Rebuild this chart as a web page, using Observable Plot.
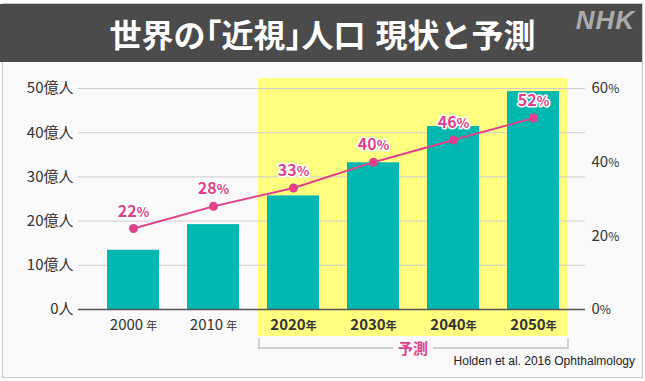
<!DOCTYPE html>
<html><head><meta charset="utf-8">
<script src="https://cdn.jsdelivr.net/npm/d3@7"></script>
<script src="https://cdn.jsdelivr.net/npm/@observablehq/plot@0.6"></script>
<style>
body{margin:0;background:#fff;font-family:"Noto Sans CJK JP","Noto Sans",sans-serif;}
#wrap{position:relative;width:645px;height:381px;overflow:hidden;}
#frame{position:absolute;left:2px;top:3px;width:639px;height:373px;border:1px solid #c8c8c8;background:#f9f9f9;}
#title{position:absolute;left:0px;top:4px;width:639px;height:58px;padding-left:3px;background:#4b4b4b;color:#fff;font-weight:700;font-size:32px;line-height:58px;text-align:center;}
#title .h{font-feature-settings:"halt";}
#title .sp{display:inline-block;width:10px;}
#nhk{position:absolute;right:10px;top:5px;color:#ababab;font-family:"Liberation Sans",sans-serif;font-weight:900;font-style:italic;font-size:26px;letter-spacing:1px;}
#chart{position:absolute;left:0;top:62px;}
#bracket{position:absolute;left:258px;top:338px;width:307px;height:9px;border:2px solid #cfcfcf;border-top:none;}
#yosoku{position:absolute;left:393px;top:337px;width:40px;text-align:center;background:#f9f9f9;color:#e0418b;font-weight:700;font-size:15px;line-height:22px;}
#source{position:absolute;right:10px;top:354px;font-family:"Liberation Sans",sans-serif;font-size:12px;color:#222;}
</style></head>
<body>
<div id="wrap">
  <div id="frame"></div>
  <div id="title">世界の<span class="h">「</span>近視<span class="h">」</span>人口<span class="sp"></span>現状と予測</div>
  <div id="nhk">NHK</div>
  <div id="chart"></div>
  <div id="bracket"></div>
  <div id="yosoku">予測</div>
  <div id="source">Holden et al. 2016 Ophthalmology</div>
</div>
<script>
const years = ["2000", "2010", "2020", "2030", "2040", "2050"];
const population = [13.4, 19.2, 25.7, 33.2, 41.4, 49.3]; // 億人
const share = [22, 28, 33, 40, 46, 52]; // %
const forecastYears = ["2020", "2030", "2040", "2050"];
const leftTicks = [0, 10, 20, 30, 40, 50];
const rightTicks = [0, 20, 40, 60];

const data = years.map((y, i) => ({year: y, pop: population[i], pct: share[i]}));
const toY = p => p * 50 / 60; // right axis (0–60%) onto left axis (0–50億人)

const pink = "#e0418b";
const teal = "#00b8b0";
const yellow = "#ffff80";
const inner = forecastYears.slice(1, -1);

const chart = Plot.plot({
  width: 645,
  height: 319,
  marginLeft: 78,
  marginRight: 60,
  marginTop: 26,
  marginBottom: 72,
  style: {background: "transparent", fontFamily: '"Noto Sans CJK JP", sans-serif', overflow: "visible"},
  x: {type: "band", domain: years, range: [93, 573], paddingInner: 0.35, paddingOuter: 0.175},
  y: {domain: [0, 50]},
  marks: [
    Plot.barY([forecastYears[0]], {x: d => d, y1: 0, y2: 50, fill: yellow, insetLeft: -9, insetRight: -15, insetTop: -10, insetBottom: -27}),
    Plot.barY(inner, {x: d => d, y1: 0, y2: 50, fill: yellow, insetLeft: -15, insetRight: -15, insetTop: -10, insetBottom: -27}),
    Plot.barY([forecastYears[forecastYears.length - 1]], {x: d => d, y1: 0, y2: 50, fill: yellow, insetLeft: -15, insetRight: -9, insetTop: -10, insetBottom: -27}),
    Plot.gridY(leftTicks, {stroke: "#cfcfcf", strokeOpacity: 1}),
    Plot.barY(data, {x: "year", y: "pop", fill: teal}),
    Plot.ruleY([0], {stroke: "#555", strokeWidth: 1.5}),
    Plot.axisY(leftTicks, {anchor: "left", tickSize: 0, tickPadding: 5, label: null, fontSize: 15,
      tickFormat: d => d === 0 ? "0人" : d + "億人"}),
    Plot.axisY(rightTicks.map(toY), {anchor: "right", tickSize: 0, tickPadding: 6, label: null, fontSize: 15,
      tickFormat: d => Math.round(d * 60 / 50) + "%"}),
    Plot.axisX({tickSize: 0, tickPadding: 10, label: null, fontSize: 15, tickFormat: d => d + "年"}),
    Plot.line(data, {x: "year", y: d => toY(d.pct), stroke: pink, strokeWidth: 2}),
    Plot.dot(data, {x: "year", y: d => toY(d.pct), r: 4.5, fill: pink}),
    Plot.text(data, {x: "year", y: d => toY(d.pct), text: d => d.pct + "%", dy: -17, fill: pink,
      stroke: "white", strokeWidth: 3, fontSize: 16, fontWeight: 700, className: "pct-label"})
  ]
});
document.getElementById("chart").appendChild(chart);

// style unit suffixes smaller, like the original
d3.select(chart).selectAll("text").each(function () {
  const t = d3.select(this);
  const s = this.textContent;
  const m = s.match(/^(\d+)(%|年|億人|人)$/);
  if (!m) return;
  const g = this.closest("g");
  const isPink = (g && (g.getAttribute("fill") === pink || (g.getAttribute("class") || "").includes("pct-label"))) || t.attr("fill") === pink;
  const isYear = m[2] === "年";
  const forecast = isYear && forecastYears.includes(m[1]);
  const tspan0 = t.select("tspan");
  const target = tspan0.empty() ? t : tspan0;
  target.text(null);
  target.append("tspan").text(m[1])
    .attr("font-weight", isPink ? 700 : (forecast ? 700 : 400));
  const unit = target.append("tspan").text(m[2]);
  if (m[2] === "%") unit.attr("font-size", isPink ? 13 : 12);
  if (isYear) { unit.attr("font-size", 11).attr("font-weight", forecast ? 700 : 400); if (!forecast) unit.attr("dx", 3); }
  if (isPink) t.attr("fill", pink); else t.attr("fill", "#333");
});
</script>
</body></html>
